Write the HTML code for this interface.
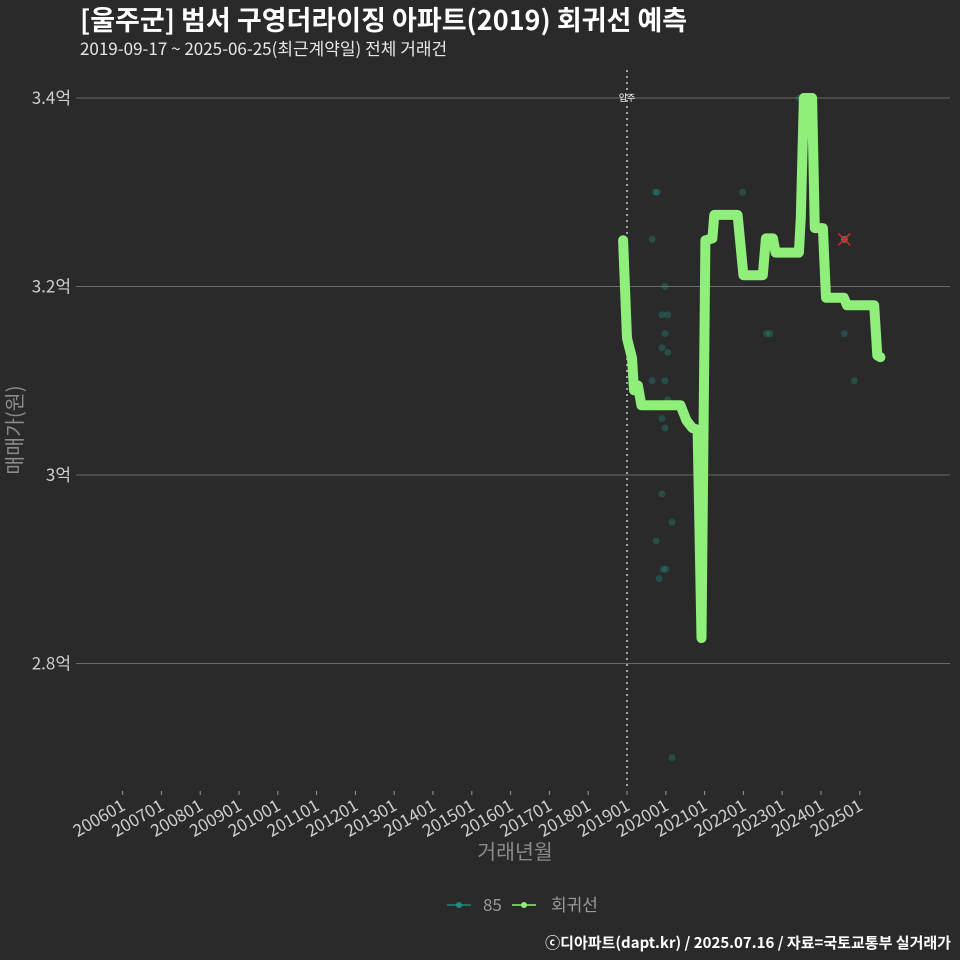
<!DOCTYPE html>
<html><head><meta charset="utf-8">
<style>
html,body{margin:0;padding:0;background:#2a2a2b;}
svg{display:block;font-family:"Noto Sans CJK KR","Liberation Sans",sans-serif;}
</style></head>
<body>
<svg id="chart" width="960" height="960" viewBox="0 0 960 960">
<rect x="0" y="0" width="960" height="960" fill="#2a2a2b"/>
<text x="80" y="30" fill="#ffffff" font-size="27" font-weight="bold">[울주군] 범서 구영더라이징 아파트(2019) 회귀선 예측</text>
<text x="80" y="55" fill="#e8e8e8" font-size="17">2019-09-17 ~ 2025-06-25(최근계약일) 전체 거래건</text>
<g id="grid"></g>
<g id="yaxis"></g>
<g id="xaxis"></g>
<g id="marks"></g>
<text transform="translate(22,430) rotate(-90)" text-anchor="middle" fill="#8a8a8a" font-size="20.5">매매가(원)</text>
<text x="515" y="859" text-anchor="middle" fill="#8a8a8a" font-size="20.5">거래년월</text>
<g>
  <g>
    <line x1="447" y1="905" x2="471" y2="905" stroke="#1f9e89" stroke-width="1.5" opacity="0.8"/>
    <circle cx="459" cy="905" r="3" fill="#1f9e89" opacity="0.8"/>
    <text x="483" y="911" fill="#9a9a9a" font-size="17">85</text>
  </g>
  <g>
    <line x1="512" y1="905" x2="536" y2="905" stroke="#90ee7a" stroke-width="1.5"/>
    <circle cx="524" cy="905" r="3" fill="#90ee7a"/>
    <text x="551" y="911" fill="#9a9a9a" font-size="17">회귀선</text>
  </g>
</g>
<text x="951" y="948" text-anchor="end" fill="#ffffff" font-size="15" font-weight="bold">ⓒ디아파트(dapt.kr) / 2025.07.16 / 자료=국토교통부 실거래가</text>
</svg>
<script>
const yTicks = [2.8, 3.0, 3.2, 3.4];
const yTickLabels = ["2.8억", "3억", "3.2억", "3.4억"];
const xTicks = [2006,2007,2008,2009,2010,2011,2012,2013,2014,2015,2016,2017,2018,2019,2020,2021,2022,2023,2024,2025];
const xTickLabels = ["200601","200701","200801","200901","201001","201101","201201","201301","201401","201501","201601","201701","201801","201901","202001","202101","202201","202301","202401","202501"];
const lineX = [2018.9,2019.0,2019.13,2019.18,2019.28,2019.37,2020.38,2020.53,2020.68,2020.82,2020.92,2021.02,2021.2,2021.25,2021.85,2021.95,2022.0,2022.5,2022.58,2022.76,2022.83,2023.43,2023.48,2023.56,2023.77,2023.84,2024.05,2024.13,2024.59,2024.67,2025.37,2025.45,2025.53];
const lineY = [3.249,3.145,3.124,3.090,3.095,3.074,3.074,3.058,3.050,3.048,2.827,3.249,3.251,3.276,3.276,3.233,3.212,3.212,3.251,3.251,3.236,3.236,3.273,3.400,3.400,3.262,3.262,3.188,3.188,3.180,3.180,3.127,3.125];
const ptX = [2023.44,2019.73,2019.78,2021.98,2019.65,2021.9,2019.98,2019.9,2020.05,2019.98,2019.9,2020.05,2022.6,2022.68,2024.6,2019.65,2019.98,2020.05,2019.9,2019.98,2024.86,2019.9,2020.16,2019.75,2019.93,2020.0,2019.83,2020.16];
const ptY = [3.400,3.300,3.300,3.300,3.250,3.250,3.200,3.170,3.170,3.150,3.135,3.130,3.150,3.150,3.150,3.100,3.100,3.080,3.060,3.050,3.100,2.980,2.950,2.930,2.900,2.900,2.890,2.700];
const markerX = [2024.6];
const markerY = [3.250];
const moveInYear = 2019.0;

const NS = "http://www.w3.org/2000/svg";
const X0 = 627, XS = 38.8, Y0 = 98, YS = 942.5;
function xs(v){ return X0 + (v - 2019) * XS; }
function ys(v){ return Y0 + (3.4 - v) * YS; }
function mk(tag, attrs, parent){ const e = document.createElementNS(NS, tag); for (const k in attrs) e.setAttribute(k, attrs[k]); parent.appendChild(e); return e; }

const grid = document.getElementById('grid');
const yaxis = document.getElementById('yaxis');
const xaxis = document.getElementById('xaxis');
const marks = document.getElementById('marks');

yTicks.forEach((t, i) => {
  const g = mk('line', {x1: 76, x2: 950, y1: ys(t), y2: ys(t), stroke: '#6a6a6a', 'stroke-width': 1}, grid);
  
  
  const l = mk('text', {x: 71, y: ys(t) + 6, 'text-anchor': 'end', fill: '#cfcfcf', 'font-size': 17}, yaxis);
  
  
  l.textContent = yTickLabels[i];
});

xTicks.forEach((t, i) => {
  const x = xs(t);
  const tk = mk('line', {x1: x, x2: x, y1: 791, y2: 795, stroke: '#9a9a9a', 'stroke-width': 1}, xaxis);
  
  
  const l = mk('text', {transform: `translate(${x + 4},${809}) rotate(-30)`, 'text-anchor': 'end', fill: '#cfcfcf', 'font-size': 17}, xaxis);
  
  
  l.textContent = xTickLabels[i];
});

const vl = mk('line', {x1: xs(moveInYear), x2: xs(moveInYear), y1: 70, y2: 790, stroke: '#cccccc', 'stroke-width': 1.5, 'stroke-dasharray': '2,4'}, marks);


const vt = mk('text', {x: xs(moveInYear), y: 101, 'text-anchor': 'middle', fill: '#ffffff', 'font-size': 9}, marks);


vt.textContent = '입주';

ptX.forEach((v, i) => {
  const c = mk('circle', {cx: xs(v), cy: ys(ptY[i]), r: 3.5, fill: '#1f9e89', opacity: 0.3}, marks);
  
  
});

const d = lineX.map((v, i) => (i ? 'L' : 'M') + xs(v).toFixed(1) + ',' + ys(lineY[i]).toFixed(1)).join(' ');
const p = mk('path', {d: d, fill: 'none', stroke: '#90ee7a', 'stroke-width': 10, 'stroke-linejoin': 'round', 'stroke-linecap': 'round'}, marks);



markerX.forEach((v, i) => {
  const x = xs(v), y = ys(markerY[i]);
  const g = mk('g', {}, marks);
  
  
  mk('circle', {cx: x, cy: y, r: 3.5, fill: '#666'}, g);
  mk('path', {d: `M${x-6},${y-6}L${x+6},${y+6}M${x-6},${y+6}L${x+6},${y-6}`, stroke: '#d62728', 'stroke-width': 1.5}, g);
});
</script>
</body></html>
